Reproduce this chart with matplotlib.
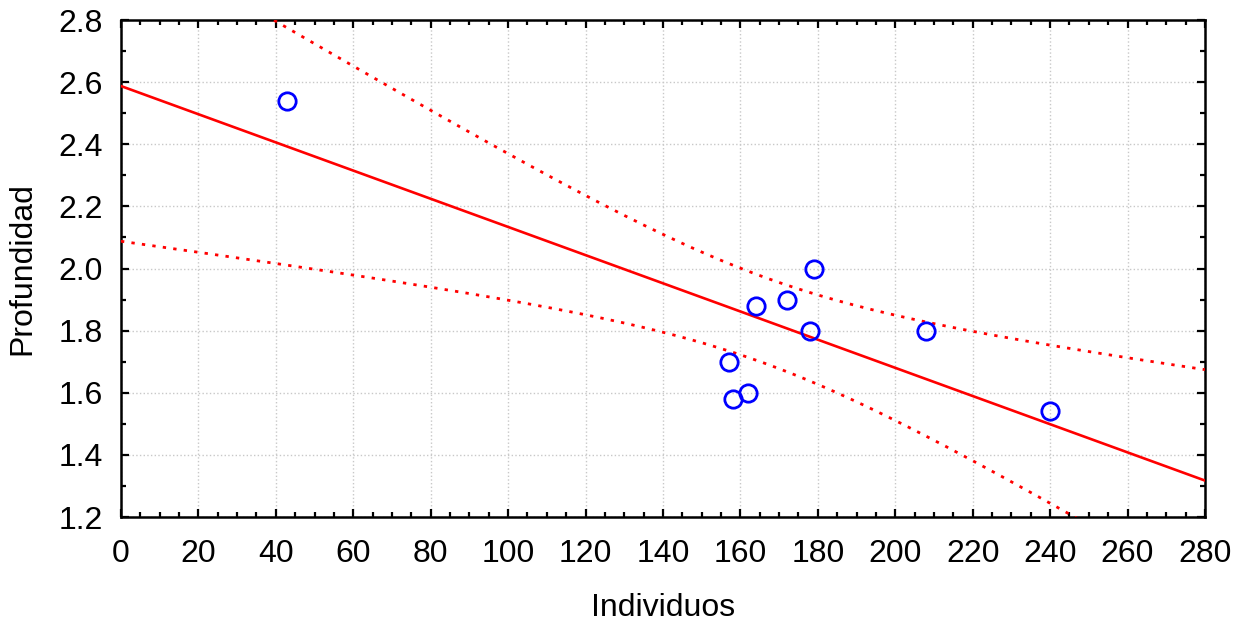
import matplotlib
matplotlib.use("Agg")
import matplotlib.pyplot as plt
from matplotlib.ticker import MultipleLocator, FormatStrFormatter
import numpy as np

# datos
individuos = [43, 157, 158, 162, 164, 172, 178, 179, 208, 240]
profundidad = [2.54, 1.70, 1.58, 1.60, 1.88, 1.90, 1.80, 2.00, 1.80, 1.54]

plt.rcParams['font.family'] = ['Liberation Sans', 'DejaVu Sans']

x = np.array(individuos, dtype=float)
y = np.array(profundidad, dtype=float)
n = len(x)

# ajuste lineal e intervalo de confianza 95%
b, a = np.polyfit(x, y, 1)
res = y - (a + b * x)
s = np.sqrt(np.sum(res ** 2) / (n - 2))
sxx = np.sum((x - x.mean()) ** 2)
t95 = 2.306  # t(0.975, 8)

xx = np.linspace(0, 280, 300)
yy = a + b * xx
se = s * np.sqrt(1.0 / n + (xx - x.mean()) ** 2 / sxx)

fig = plt.figure(figsize=(12.42, 6.27), dpi=100)
ax = fig.add_axes([0.0974, 0.1754, 0.8728, 0.7927])

ax.plot(xx, yy, color='red', lw=1.9, zorder=3)
ax.plot(xx, yy + t95 * se, color='red', lw=2.0, linestyle=(0, (1.2, 2.6)), zorder=3)
ax.plot(xx, yy - t95 * se, color='red', lw=2.0, linestyle=(0, (1.2, 2.6)), zorder=3)
ax.plot(x, y, 'o', mfc='none', mec='blue', ms=12.5, mew=2.0, zorder=4)

ax.set_xlim(0, 280)
ax.set_ylim(1.2, 2.8)
ax.xaxis.set_major_locator(MultipleLocator(20))
ax.xaxis.set_minor_locator(MultipleLocator(5))
ax.yaxis.set_major_locator(MultipleLocator(0.2))
ax.yaxis.set_minor_locator(MultipleLocator(0.1))
ax.yaxis.set_major_formatter(FormatStrFormatter('%.1f'))

ax.grid(True, which='major', color='#c8c8c8', linestyle=':', lw=1.0)
ax.tick_params(which='both', direction='in', top=True, right=True, width=1.6, labelsize=23)
ax.tick_params(axis='x', which='major', pad=16)
ax.tick_params(axis='y', which='major', pad=13)
ax.tick_params(which='major', length=6)
ax.tick_params(which='minor', length=3.5)
for sp in ax.spines.values():
    sp.set_linewidth(1.8)

ax.set_xlabel('Individuos', fontsize=23, labelpad=17)
ax.set_ylabel('Profundidad', fontsize=23, labelpad=15)

fig.savefig('out.png', dpi=100)
